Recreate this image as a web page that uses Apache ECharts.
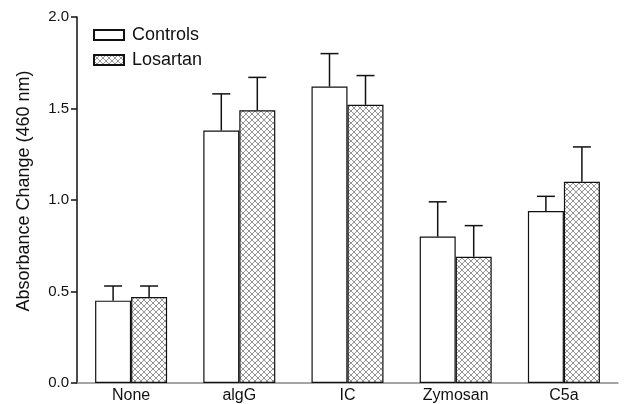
<!DOCTYPE html>
<html><head><meta charset="utf-8">
<script src="https://cdn.jsdelivr.net/npm/echarts@6/dist/echarts.min.js"></script>
<style>html,body{margin:0;padding:0;background:#fff}#c{width:629px;height:404px}</style>
</head><body><div id="c"></div>
<script>
const categories = ['None', 'algG', 'IC', 'Zymosan', 'C5a'];
const controls = [0.45, 1.38, 1.62, 0.80, 0.94];
const controlsErr = [0.53, 1.58, 1.80, 0.99, 1.02];
const losartan = [0.47, 1.49, 1.52, 0.69, 1.10];
const losartanErr = [0.53, 1.67, 1.68, 0.86, 1.29];
const yTicks = ['0.0', '0.5', '1.0', '1.5', '2.0'];
const yTitle = 'Absorbance Change (460 nm)';

function hatch() {
  const c = document.createElement('canvas');
  c.width = 6; c.height = 6;
  const g = c.getContext('2d');
  g.fillStyle = '#fff'; g.fillRect(0, 0, 6, 6);
  g.strokeStyle = '#666'; g.lineWidth = 0.7;
  g.beginPath();
  g.moveTo(0, 0); g.lineTo(6, 6);
  g.moveTo(6, 0); g.lineTo(0, 6);
  g.stroke();
  return c;
}
const chart = echarts.init(document.getElementById('c'));
const BW = 36;
function errSeries(name, vals, errs, sign) {
  return {
    type: 'custom', name: name + ' err', silent: true, z: 5,
    data: vals.map((v, i) => [i, v, errs[i]]),
    renderItem: function (params, api) {
      const p0 = api.coord([api.value(0), api.value(1)]);
      const p1 = api.coord([api.value(0), api.value(2)]);
      const x = p0[0] + sign * BW / 2;
      const half = BW / 4;
      return {
        type: 'group', children: [
          { type: 'line', shape: { x1: x, y1: p0[1], x2: x, y2: p1[1] }, style: { stroke: '#111', lineWidth: 1.5 } },
          { type: 'line', shape: { x1: x - half, y1: p1[1], x2: x + half, y2: p1[1] }, style: { stroke: '#111', lineWidth: 1.5 } }
        ]
      };
    }
  };
}
chart.setOption({
  animation: false,
  backgroundColor: '#fff',
  textStyle: { fontFamily: 'Liberation Sans, Arial, sans-serif' },
  grid: { left: 77, right: 11, top: 17, bottom: 20, containLabel: false },
  graphic: [{
    type: 'text', x: 24, y: 191, rotation: Math.PI / 2,
    style: { text: yTitle, fontSize: 18, fill: '#111', align: 'center', verticalAlign: 'middle',
      fontFamily: 'Liberation Sans, Arial, sans-serif' }
  }],
  legend: {
    orient: 'vertical', left: 88, top: 21, itemWidth: 30, itemHeight: 10, itemGap: 7,
    icon: 'rect',
    textStyle: { fontSize: 18, color: '#111', padding: [0, 0, 0, 3], fontFamily: 'Liberation Sans, Arial, sans-serif' },
    data: ['Controls', 'Losartan']
  },
  xAxis: {
    type: 'category', data: categories,
    axisLine: { lineStyle: { color: '#888', width: 1.5 } },
    axisTick: { show: false },
    axisLabel: { color: '#111', fontSize: 16, margin: 5 }
  },
  yAxis: {
    type: 'value', min: 0, max: 2, interval: 0.5,
    axisLine: { show: true, lineStyle: { color: '#111', width: 1.5 } },
    axisTick: { show: true, length: 6, lineStyle: { color: '#111', width: 1.5 } },
    splitLine: { show: false },
    axisLabel: { color: '#111', fontSize: 15, margin: 8, formatter: v => yTicks[Math.round(v / 0.5)] }
  },
  series: [
    { type: 'bar', name: 'Controls', data: controls, barWidth: BW, barGap: '0%',
      itemStyle: { color: '#fff', borderColor: '#111', borderWidth: 1.2 } },
    { type: 'bar', name: 'Losartan', data: losartan, barWidth: BW, barGap: '0%',
      itemStyle: { color: { image: hatch(), repeat: 'repeat' }, borderColor: '#111', borderWidth: 1.2 } },
    errSeries('Controls', controls, controlsErr, -1),
    errSeries('Losartan', losartan, losartanErr, 1)
  ]
});
</script></body></html>
